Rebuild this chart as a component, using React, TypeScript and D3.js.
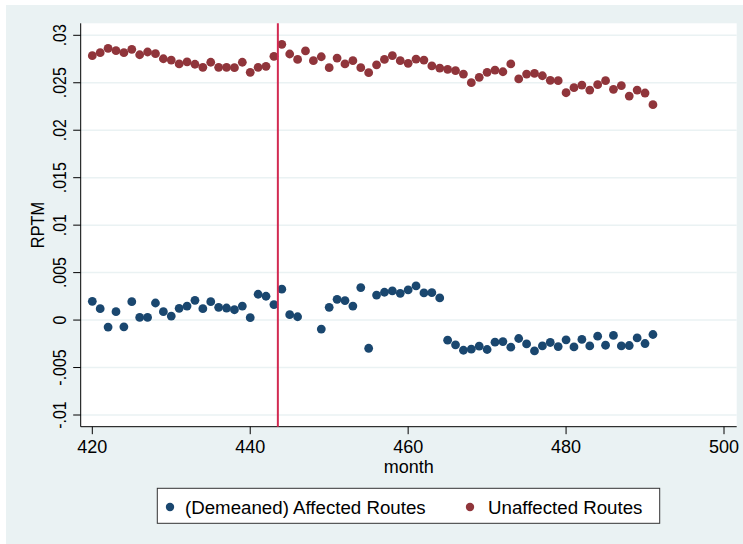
import * as d3 from "d3";

const months = [
  420, 421, 422, 423, 424, 425, 426, 427, 428, 429, 430, 431, 432, 433, 434, 435, 436, 437,
  438, 439, 440, 441, 442, 443, 444, 445, 446, 447, 448, 449, 450, 451, 452, 453, 454, 455,
  456, 457, 458, 459, 460, 461, 462, 463, 464, 465, 466, 467, 468, 469, 470, 471, 472, 473,
  474, 475, 476, 477, 478, 479, 480, 481, 482, 483, 484, 485, 486, 487, 488, 489, 490, 491,
];

// demeaned RPTM, affected routes (447 and 448 missing)
const affected: (number | null)[] = [
  0.00198, 0.0012, -0.00074, 0.00088, -0.00071, 0.00194, 0.00028, 0.00028, 0.0018, 0.00088,
  0.00042, 0.00124, 0.00148, 0.00208, 0.0012, 0.00194, 0.00134, 0.00127, 0.00109, 0.00148,
  0.00025, 0.00272, 0.00251, 0.00163, 0.00325, 0.00057, 0.00035, null, null, -0.00095,
  0.00134, 0.00219, 0.00205, 0.00148, 0.00342, -0.00297, 0.00263, 0.00293, 0.00307, 0.00282,
  0.00318, 0.0036, 0.00286, 0.00289, 0.00233, -0.00212, -0.00261, -0.00318, -0.00307,
  -0.00275, -0.0031, -0.00233, -0.00226, -0.00286, -0.00194, -0.00251, -0.00325, -0.00272,
  -0.00236, -0.00279, -0.00208, -0.00283, -0.00204, -0.00272, -0.0017, -0.00265, -0.00162,
  -0.00272, -0.00268, -0.00188, -0.00247, -0.00152,
];

const unaffected = [
  0.02785, 0.02817, 0.02863, 0.02838, 0.02817, 0.02852, 0.02795, 0.02824, 0.02806, 0.02753,
  0.02739, 0.02698, 0.02719, 0.02695, 0.02663, 0.02716, 0.02663, 0.02663, 0.02659, 0.02716,
  0.0261, 0.02663, 0.02673, 0.02778, 0.02905, 0.02803, 0.02746, 0.02835, 0.02733, 0.02774,
  0.02659, 0.0276, 0.02698, 0.02733, 0.02659, 0.02606, 0.02689, 0.02746, 0.02785, 0.02733,
  0.02705, 0.0275, 0.02739, 0.02677, 0.02655, 0.02642, 0.02627, 0.02592, 0.02501, 0.02557,
  0.0261, 0.02634, 0.02616, 0.02698, 0.0254, 0.02592, 0.02599, 0.02574, 0.02526, 0.02522,
  0.02395, 0.02448, 0.02476, 0.02423, 0.0248, 0.02522, 0.02431, 0.02469, 0.0236, 0.02423,
  0.02392, 0.02269,
];

const xTicks = [420, 440, 460, 480, 500];
const yTicks = [-0.01, -0.005, 0, 0.005, 0.01, 0.015, 0.02, 0.025, 0.03];
const yTickLabels = ["-.01", "-.005", "0", ".005", ".01", ".015", ".02", ".025", ".03"];
const eventMonth = 443.5;

const seriesNames = ["(Demeaned) Affected Routes", "Unaffected Routes"];
const seriesColors = ["#1a476f", "#90353b"];

const FONT = "'Liberation Sans', Arial, Helvetica, sans-serif";
const BG = "#eaf2f3";

export default function App() {
  const width = 743;
  const height = 544;
  const plot = { left: 80.7, right: 736.7, top: 23.3, bottom: 426.7 };

  const x = d3.scaleLinear().domain([420, 500]).range([92.3, 724]);
  const y = d3.scaleLinear().domain([-0.01, 0.03]).range([415, 35.3]);

  const bluePts = months
    .map((m, i) => ({ m, v: affected[i] }))
    .filter((d) => d.v !== null) as { m: number; v: number }[];
  const redPts = months.map((m, i) => ({ m, v: unaffected[i] }));

  const r = 4.4;
  const midY = (plot.top + plot.bottom) / 2;
  const midX = (plot.left + plot.right) / 2;

  return (
    <svg
      width={width}
      height={height}
      style={{ position: "absolute", left: 0, top: 0, fontFamily: FONT }}
    >
      <rect x={0} y={0} width={width} height={height} fill="#ffffff" />
      <rect x={6} y={5} width={width - 6} height={height - 5} fill={BG} />
      <rect
        x={plot.left}
        y={plot.top}
        width={plot.right - plot.left}
        height={plot.bottom - plot.top}
        fill="#ffffff"
      />

      {/* grid */}
      {yTicks.map((t) => (
        <line
          key={`g${t}`}
          x1={plot.left}
          x2={plot.right}
          y1={y(t)}
          y2={y(t)}
          stroke={BG}
          strokeWidth={1.5}
        />
      ))}

      {/* axes */}
      <line x1={plot.left} x2={plot.left} y1={plot.top} y2={plot.bottom} stroke="#000" strokeWidth={1} />
      <line x1={plot.left} x2={plot.right} y1={plot.bottom} y2={plot.bottom} stroke="#000" strokeWidth={1} />

      {yTicks.map((t, i) => (
        <g key={`y${t}`}>
          <line x1={plot.left - 7.5} x2={plot.left} y1={y(t)} y2={y(t)} stroke="#000" strokeWidth={1} />
          <text
            transform={`translate(65.5,${y(t)}) rotate(-90) scale(0.86,1)`}
            textAnchor="middle"
            fontSize={18.5}
            fill="#000"
          >
            {yTickLabels[i]}
          </text>
        </g>
      ))}

      {xTicks.map((t) => (
        <g key={`x${t}`}>
          <line x1={x(t)} x2={x(t)} y1={plot.bottom} y2={plot.bottom + 7.5} stroke="#000" strokeWidth={1} />
          <text x={x(t)} y={453} textAnchor="middle" fontSize={18} fill="#000">
            {t}
          </text>
        </g>
      ))}

      <text x={midX} y={473} textAnchor="middle" fontSize={18} fill="#000">
        month
      </text>
      <text
        transform={`translate(44,${midY}) rotate(-90) scale(0.86,1)`}
        textAnchor="middle"
        fontSize={19}
        fill="#000"
      >
        RPTM
      </text>

      {/* markers */}
      {bluePts.map((d) => (
        <circle key={`b${d.m}`} cx={x(d.m)} cy={y(d.v)} r={r} fill={seriesColors[0]} />
      ))}
      {redPts.map((d) => (
        <circle key={`r${d.m}`} cx={x(d.m)} cy={y(d.v)} r={r} fill={seriesColors[1]} />
      ))}

      {/* event line */}
      <line
        x1={x(eventMonth)}
        x2={x(eventMonth)}
        y1={plot.top}
        y2={plot.bottom}
        stroke="#d22a52"
        strokeWidth={2}
      />

      {/* legend */}
      <rect x={157.3} y={488.3} width={502.4} height={35} fill="#ffffff" stroke="#333" strokeWidth={1} />
      {seriesNames.map((name, i) => {
        const lx = i === 0 ? 170 : 470;
        return (
          <g key={name}>
            <circle cx={lx} cy={507} r={4.2} fill={seriesColors[i]} />
            <text x={i === 0 ? 185 : 488} y={514} fontSize={18.7} fill="#000">
              {name}
            </text>
          </g>
        );
      })}
    </svg>
  );
}
